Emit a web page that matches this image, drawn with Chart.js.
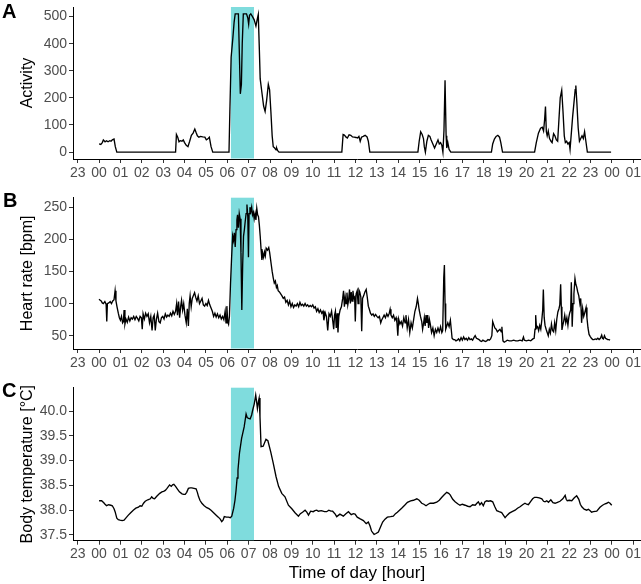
<!DOCTYPE html>
<html>
<head>
<meta charset="utf-8">
<script src="https://cdn.jsdelivr.net/npm/chart.js@4.4.0/dist/chart.umd.min.js"></script>
<style>
  body { margin: 0; background: #fff; }
  #wrap { position: relative; width: 641px; height: 584px; overflow: hidden; }
  .panel { position: absolute; left: 0; width: 641px; }
  .tag { position: absolute; font: bold 20px "Liberation Sans", Arial, sans-serif; line-height: 20px; color: #000; }
</style>
</head>
<body>
<div id="wrap">
  <div class="panel" style="top:0;height:185px"><canvas id="chartA"></canvas></div>
  <div class="panel" style="top:190px;height:185px"><canvas id="chartB"></canvas></div>
  <div class="panel" style="top:380px;height:204px"><canvas id="chartC"></canvas></div>
  <div class="tag" style="left:2px;top:1px">A</div>
  <div class="tag" style="left:3px;top:190px">B</div>
  <div class="tag" style="left:2px;top:380px">C</div>
</div>
<script>
// hour of day (0 = midnight) -> value
const activity = [
  [0.00,30],[0.08,28],[0.15,35],[0.20,45],[0.28,38],[0.35,42],[0.42,38],[0.50,42],[0.56,40],[0.62,45],[0.70,48],[0.76,20],[0.83,0],
  [3.58,0],[3.62,65],[3.68,55],[3.74,38],[3.80,42],[3.88,40],[3.94,45],[4.00,35],[4.08,25],[4.16,20],[4.24,40],[4.32,62],[4.40,70],
  [4.48,85],[4.54,72],[4.60,60],[4.67,55],[4.75,58],[4.85,56],[4.95,55],[5.02,45],[5.08,48],[5.16,55],[5.24,20],[5.32,0],
  [6.08,0],[6.12,150],[6.18,350],[6.26,420],[6.32,480],[6.37,510],[6.52,510],[6.56,380],[6.61,215],[6.66,250],[6.70,400],[6.75,510],
  [6.90,510],[6.96,495],[7.00,472],[7.04,505],[7.10,510],[7.18,500],[7.26,488],[7.34,465],[7.40,490],[7.45,508],[7.50,380],[7.54,270],
  [7.62,220],[7.70,170],[7.77,150],[7.84,190],[7.92,250],[7.98,230],[8.04,150],[8.10,60],[8.15,20],[8.22,15],[8.28,8],[8.31,15],[8.36,5],[8.42,0],
  [11.36,0],[11.42,65],[11.48,63],[11.56,55],[11.62,52],[11.70,64],[11.78,62],[11.86,56],[11.94,55],[12.02,54],[12.10,52],[12.16,58],
  [12.22,40],[12.28,55],[12.36,58],[12.45,62],[12.54,56],[12.60,40],[12.67,0],
  [14.92,0],[14.98,40],[15.05,75],[15.12,65],[15.18,50],[15.22,20],[15.27,0],[15.34,40],[15.41,62],[15.48,58],[15.54,45],[15.62,30],
  [15.70,15],[15.78,30],[15.86,45],[15.92,30],[15.98,35],[16.04,25],[16.09,0],[16.14,80],[16.19,265],[16.24,60],[16.27,15],[16.32,35],[16.38,10],[16.46,0],
  [18.36,0],[18.42,30],[18.50,48],[18.58,58],[18.66,62],[18.74,55],[18.80,35],[18.88,0],
  [20.38,0],[20.46,35],[20.56,70],[20.66,88],[20.74,92],[20.80,78],[20.85,120],[20.89,168],[20.93,75],[20.97,60],[21.02,78],[21.08,50],
  [21.15,40],[21.20,35],[21.27,68],[21.33,60],[21.40,45],[21.46,40],[21.52,120],[21.58,200],[21.65,228],[21.71,150],[21.77,60],[21.82,35],
  [21.88,40],[21.94,30],[22.00,35],[22.04,10],[22.10,70],[22.16,130],[22.22,180],[22.28,230],[22.31,246],[22.36,180],[22.42,90],[22.48,40],
  [22.54,50],[22.60,60],[22.66,50],[22.72,75],[22.78,40],[22.85,0],[23.96,0]
];

const heartRate = [
  [0.00,107],[0.05,105],[0.10,104],[0.15,101],[0.20,100],[0.27,103],[0.33,99],[0.36,72],[0.39,100],[0.45,101],[0.52,103],[0.58,100],
  [0.64,104],[0.70,106],[0.75,120],[0.79,104],[0.84,95],[0.90,85],[0.95,78],[1.00,74],[1.05,80],[1.10,70],[1.14,72],[1.17,90],[1.21,68],
  [1.26,76],[1.32,71],[1.38,79],[1.44,73],[1.50,78],[1.56,76],[1.62,80],[1.68,75],[1.74,80],[1.80,77],[1.86,73],[1.92,80],[1.98,78],
  [2.02,60],[2.06,84],[2.12,76],[2.18,85],[2.24,80],[2.30,84],[2.36,70],[2.42,80],[2.48,58],[2.53,78],[2.58,82],[2.63,58],[2.68,75],
  [2.74,85],[2.80,72],[2.86,70],[2.92,78],[2.98,80],[3.04,76],[3.10,84],[3.16,79],[3.22,82],[3.28,80],[3.34,85],[3.40,81],[3.46,88],
  [3.52,83],[3.58,88],[3.63,100],[3.67,82],[3.72,103],[3.77,78],[3.82,96],[3.86,105],[3.91,90],[3.96,100],[4.02,82],[4.08,70],[4.13,92],
  [4.18,65],[4.22,100],[4.26,112],[4.31,95],[4.36,108],[4.42,113],[4.47,117],[4.52,110],[4.58,104],[4.64,112],[4.70,100],[4.76,104],
  [4.82,108],[4.88,98],[4.94,96],[5.00,100],[5.06,97],[5.12,105],[5.18,98],[5.24,93],[5.30,88],[5.36,80],[5.42,85],[5.48,79],[5.54,84],
  [5.60,78],[5.66,82],[5.72,76],[5.78,80],[5.84,75],[5.90,88],[5.94,70],[5.98,96],[6.02,72],[6.06,68],[6.10,80],[6.15,130],[6.20,170],
  [6.25,205],[6.29,198],[6.33,210],[6.37,188],[6.41,215],[6.45,230],[6.48,238],[6.52,218],[6.56,240],[6.60,232],[6.64,180],[6.68,90],
  [6.72,160],[6.76,205],[6.80,215],[6.84,228],[6.88,240],[6.92,254],[6.96,235],[6.99,172],[7.02,240],[7.06,250],[7.10,243],[7.14,250],
  [7.18,238],[7.22,242],[7.26,232],[7.30,240],[7.34,230],[7.38,248],[7.42,238],[7.46,235],[7.50,222],[7.54,205],[7.58,185],[7.62,168],
  [7.66,178],[7.70,172],[7.74,180],[7.78,174],[7.82,186],[7.88,183],[7.94,187],[7.98,180],[8.02,170],[8.06,160],[8.10,150],[8.15,140],
  [8.20,132],[8.25,135],[8.30,125],[8.34,128],[8.38,120],[8.44,118],[8.50,115],[8.56,112],[8.62,108],[8.68,110],[8.74,102],[8.80,105],
  [8.86,98],[8.92,104],[8.98,95],[9.04,100],[9.10,94],[9.16,98],[9.22,96],[9.28,100],[9.34,95],[9.40,102],[9.46,97],[9.52,99],[9.58,96],
  [9.64,100],[9.70,96],[9.76,98],[9.82,95],[9.88,97],[9.94,95],[10.00,98],[10.06,93],[10.12,95],[10.18,88],[10.24,92],[10.30,86],
  [10.36,90],[10.42,85],[10.48,88],[10.52,74],[10.58,86],[10.64,80],[10.70,58],[10.76,84],[10.82,80],[10.88,88],[10.94,72],[10.98,60],
  [11.02,82],[11.06,88],[11.10,62],[11.14,85],[11.18,55],[11.22,80],[11.28,90],[11.34,95],[11.40,108],[11.44,120],[11.48,95],[11.52,110],
  [11.56,100],[11.60,117],[11.64,98],[11.68,106],[11.72,122],[11.76,100],[11.80,118],[11.84,104],[11.88,120],[11.92,108],[11.96,110],
  [11.99,72],[12.03,115],[12.08,120],[12.12,100],[12.16,121],[12.20,118],[12.25,110],[12.29,57],[12.33,108],[12.38,112],[12.44,118],
  [12.50,122],[12.55,110],[12.60,96],[12.64,92],[12.70,85],[12.76,82],[12.82,84],[12.88,80],[12.94,83],[13.00,80],[13.06,78],[13.12,80],
  [13.18,70],[13.22,74],[13.28,78],[13.34,82],[13.40,78],[13.46,84],[13.52,80],[13.58,85],[13.62,91],[13.66,82],[13.72,78],[13.78,82],
  [13.84,74],[13.90,78],[13.94,70],[13.98,50],[14.02,76],[14.08,68],[14.14,72],[14.20,65],[14.26,78],[14.32,70],[14.36,82],[14.42,62],
  [14.48,75],[14.54,55],[14.60,70],[14.66,62],[14.72,75],[14.78,88],[14.84,95],[14.90,108],[14.94,100],[14.98,90],[15.04,80],[15.10,72],
  [15.14,60],[15.18,68],[15.22,78],[15.26,65],[15.30,82],[15.34,70],[15.38,82],[15.42,62],[15.46,75],[15.50,68],[15.56,55],[15.62,62],
  [15.68,50],[15.74,60],[15.80,55],[15.86,62],[15.92,56],[15.98,64],[16.04,55],[16.08,58],[16.13,140],[16.16,160],[16.19,100],[16.22,60],
  [16.27,65],[16.32,70],[16.38,64],[16.44,74],[16.48,60],[16.52,46],[16.58,44],[16.64,44],[16.70,42],[16.76,43],[16.82,45],[16.88,42],
  [16.94,47],[17.00,43],[17.06,48],[17.12,44],[17.18,46],[17.24,43],[17.30,47],[17.36,44],[17.42,45],[17.48,43],[17.54,47],[17.60,50],
  [17.66,46],[17.72,45],[17.78,44],[17.84,42],[17.90,41],[17.96,43],[18.02,42],[18.08,41],[18.14,42],[18.20,44],[18.26,43],[18.32,45],
  [18.38,50],[18.42,72],[18.46,68],[18.52,62],[18.58,60],[18.64,56],[18.70,58],[18.76,60],[18.82,56],[18.85,64],[18.90,42],[18.96,40],
  [19.02,41],[19.10,43],[19.20,42],[19.30,42],[19.40,43],[19.50,42],[19.60,42],[19.70,43],[19.80,42],[19.86,48],[19.90,43],[20.00,42],
  [20.10,43],[20.20,42],[20.30,45],[20.36,46],[20.40,60],[20.43,82],[20.47,62],[20.52,64],[20.57,58],[20.62,66],[20.67,60],[20.72,75],
  [20.76,90],[20.79,122],[20.83,78],[20.87,66],[20.92,60],[20.97,55],[21.02,50],[21.07,60],[21.12,54],[21.17,68],[21.22,58],[21.27,56],
  [21.32,70],[21.37,58],[21.42,76],[21.47,87],[21.52,92],[21.56,98],[21.60,130],[21.63,95],[21.66,59],[21.70,66],[21.74,72],[21.79,82],
  [21.84,70],[21.89,78],[21.94,66],[21.98,78],[22.02,85],[22.07,90],[22.10,133],[22.14,64],[22.18,100],[22.22,115],[22.27,139],[22.31,130],
  [22.35,126],[22.40,118],[22.45,112],[22.50,100],[22.54,108],[22.58,70],[22.63,92],[22.68,80],[22.73,86],[22.79,94],[22.83,78],[22.88,62],
  [22.93,52],[22.98,49],[23.04,46],[23.10,44],[23.16,44],[23.22,45],[23.28,44],[23.34,46],[23.40,44],[23.46,46],[23.52,51],[23.56,46],
  [23.60,45],[23.65,50],[23.70,46],[23.75,45],[23.80,44],[23.86,44],[23.91,43]
];

const bodyTemp = [
  [0.00,38.19],[0.12,38.19],[0.22,38.15],[0.28,38.12],[0.35,38.09],[0.45,38.11],[0.55,38.10],[0.62,38.09],[0.70,38.03],[0.75,37.97],
  [0.83,37.84],[0.90,37.81],[0.98,37.80],[1.08,37.79],[1.17,37.80],[1.27,37.85],[1.37,37.90],[1.48,37.95],[1.60,38.00],[1.72,38.04],
  [1.84,38.06],[1.92,38.09],[2.00,38.08],[2.08,38.14],[2.16,38.18],[2.28,38.21],[2.40,38.23],[2.46,38.27],[2.53,38.24],[2.60,38.23],
  [2.70,38.28],[2.84,38.34],[2.94,38.37],[3.02,38.38],[3.10,38.40],[3.18,38.44],[3.30,38.51],[3.38,38.48],[3.44,38.51],[3.50,38.52],
  [3.58,38.48],[3.66,38.43],[3.76,38.37],[3.88,38.33],[3.96,38.32],[4.03,38.32],[4.10,38.36],[4.18,38.44],[4.26,38.45],[4.34,38.45],
  [4.44,38.44],[4.54,38.43],[4.60,38.36],[4.65,38.28],[4.72,38.20],[4.81,38.14],[4.92,38.09],[5.04,38.05],[5.14,38.03],[5.24,38.00],
  [5.36,37.95],[5.48,37.90],[5.58,37.86],[5.67,37.82],[5.74,37.77],[5.80,37.80],[5.86,37.87],[5.96,37.86],[6.06,37.86],[6.14,37.85],
  [6.21,37.88],[6.30,38.04],[6.36,38.20],[6.41,38.40],[6.46,38.65],[6.50,38.81],[6.57,39.15],[6.67,39.45],[6.79,39.68],[6.88,39.94],
  [6.93,39.87],[7.00,39.85],[7.07,39.84],[7.14,39.92],[7.19,40.02],[7.26,40.14],[7.33,40.32],[7.38,40.16],[7.41,40.05],[7.46,40.20],
  [7.49,40.26],[7.53,39.89],[7.58,39.28],[7.68,39.29],[7.81,39.43],[7.90,39.40],[8.03,39.18],[8.15,38.95],[8.28,38.68],[8.40,38.48],
  [8.55,38.34],[8.70,38.27],[8.86,38.10],[9.02,38.03],[9.17,37.95],[9.33,37.88],[9.42,37.93],[9.52,37.96],[9.64,38.00],[9.72,37.96],
  [9.80,37.90],[9.90,37.98],[10.02,37.97],[10.10,37.99],[10.19,38.00],[10.26,37.98],[10.40,37.99],[10.55,37.97],[10.65,37.97],[10.75,38.00],
  [10.85,37.98],[10.93,37.98],[11.05,37.92],[11.12,37.87],[11.27,37.92],[11.43,37.88],[11.55,37.93],[11.67,37.97],[11.80,37.91],[11.90,37.93],
  [11.98,37.92],[12.08,37.86],[12.20,37.83],[12.37,37.79],[12.50,37.73],[12.60,37.76],[12.68,37.68],[12.75,37.58],[12.87,37.51],[12.96,37.53],
  [13.07,37.56],[13.17,37.66],[13.27,37.76],[13.38,37.82],[13.49,37.86],[13.64,37.87],[13.77,37.88],[13.87,37.93],[13.96,37.96],[14.06,38.00],
  [14.16,38.04],[14.30,38.10],[14.43,38.16],[14.58,38.19],[14.71,38.20],[14.87,38.23],[14.98,38.20],[15.10,38.14],[15.20,38.12],[15.30,38.09],
  [15.40,38.12],[15.49,38.14],[15.65,38.14],[15.80,38.16],[15.92,38.20],[16.04,38.26],[16.15,38.31],[16.27,38.36],[16.36,38.34],[16.43,38.31],
  [16.55,38.22],[16.66,38.17],[16.78,38.13],[16.89,38.10],[17.00,38.12],[17.13,38.10],[17.25,38.08],[17.36,38.07],[17.48,38.11],[17.60,38.10],
  [17.68,38.14],[17.75,38.17],[17.82,38.11],[17.90,38.15],[17.98,38.09],[18.06,38.17],[18.14,38.19],[18.22,38.18],[18.32,38.19],[18.42,38.17],
  [18.52,38.07],[18.61,37.99],[18.72,37.97],[18.84,37.95],[18.92,37.90],[19.00,37.85],[19.10,37.90],[19.20,37.94],[19.33,37.97],[19.47,38.00],
  [19.58,38.04],[19.70,38.07],[19.82,38.11],[19.93,38.14],[20.01,38.12],[20.09,38.11],[20.20,38.18],[20.29,38.23],[20.38,38.26],[20.48,38.26],
  [20.60,38.25],[20.72,38.23],[20.80,38.18],[20.87,38.17],[20.95,38.19],[21.03,38.16],[21.14,38.21],[21.24,38.15],[21.34,38.14],[21.45,38.16],
  [21.57,38.18],[21.70,38.23],[21.81,38.30],[21.86,38.22],[21.91,38.19],[22.00,38.20],[22.12,38.19],[22.24,38.25],[22.35,38.29],[22.45,38.22],
  [22.52,38.12],[22.59,38.07],[22.70,38.02],[22.82,38.00],[22.90,38.02],[22.98,37.99],[23.05,37.96],[23.13,37.97],[23.29,37.98],[23.44,38.06],
  [23.56,38.10],[23.68,38.13],[23.76,38.14],[23.83,38.16],[23.91,38.14],[23.99,38.10]
];

// x axis: hours from 23 (previous day) to 01 (next day)
const hourTicks = [-1,0,1,2,3,4,5,6,7,8,9,10,11,12,13,14,15,16,17,18,19,20,21,22,23,24,25];
const hourLabels = ['23','00','01','02','03','04','05','06','07','08','09','10','11','12','13',
                    '14','15','16','17','18','19','20','21','22','23','00','01'];
const activityTicks = [0,100,200,300,400,500];
const heartTicks = [50,100,150,200,250];
const tempTicks = [37.5,38.0,38.5,39.0,39.5,40.0];

// highlighted exercise window
const shadeStart = 6.17;
const shadeEnd = 7.25;

const FONT = '"Liberation Sans", Arial, sans-serif';

const shadePlugin = {
    id: 'shade',
    beforeDatasetsDraw(chart) {
        const { ctx, chartArea, scales } = chart;
        const x0 = scales.x.getPixelForValue(shadeStart);
        const x1 = scales.x.getPixelForValue(shadeEnd);
        ctx.save();
        ctx.fillStyle = '#7fdcdd';
        ctx.fillRect(x0, chartArea.top, x1 - x0, chartArea.bottom - chartArea.top - 0.5);
        ctx.restore();
    }
};

function axisLook() {
    return {
        border: { display: true, color: '#000', width: 1 },
        grid: { display: true, drawOnChartArea: false, drawTicks: true, tickLength: 4, color: '#333', lineWidth: 1 }
    };
}

function makeChart(canvasId, points, cfg) {
    new Chart(document.getElementById(canvasId), {
        type: 'line',
        data: {
            datasets: [{
                data: points.map(p => ({ x: p[0], y: p[1] })),
                borderColor: '#000',
                borderWidth: 1.35,
                pointRadius: 0,
                tension: 0,
                fill: false
            }]
        },
        options: {
            responsive: true,
            maintainAspectRatio: false,
            animation: false,
            layout: { padding: { top: cfg.padTop, right: 0, left: 0, bottom: 0 } },
            plugins: { legend: { display: false }, tooltip: { enabled: false } },
            scales: {
                x: {
                    type: 'linear',
                    min: -1.22,
                    max: 25.36,
                    ...axisLook(),
                    afterBuildTicks: s => { s.ticks = hourTicks.map(v => ({ value: v })); },
                    afterFit: s => { s.height = cfg.xHeight; s.paddingLeft = 0; s.paddingRight = 0; },
                    ticks: {
                        autoSkip: false, maxRotation: 0, padding: 1.5,
                        color: '#4d4d4d', font: { family: FONT, size: 14 },
                        callback: (v, i) => hourLabels[i]
                    },
                    title: cfg.xTitle ? {
                        display: true, text: cfg.xTitle, color: '#000',
                        font: { family: FONT, size: 17 }, padding: { top: 0, bottom: 0 }
                    } : { display: false }
                },
                y: {
                    min: cfg.yMin,
                    max: cfg.yMax,
                    ...axisLook(),
                    afterBuildTicks: s => { s.ticks = cfg.yTicks.map(v => ({ value: v })); },
                    afterFit: s => { s.width = 73; s.paddingTop = 0; s.paddingBottom = 0; },
                    ticks: {
                        padding: 2, color: '#4d4d4d', font: { family: FONT, size: 14 },
                        callback: cfg.yFormat
                    },
                    title: {
                        display: true, text: cfg.yTitle, color: '#000',
                        font: { family: FONT, size: 16 }, padding: { top: 18, bottom: 0 }
                    }
                }
            }
        },
        plugins: [shadePlugin]
    });
}

makeChart('chartA', activity, {
    padTop: 7, xHeight: 26, yMin: -25.5, yMax: 535.5, yTicks: activityTicks,
    yTitle: 'Activity', yFormat: v => String(v)
});
makeChart('chartB', heartRate, {
    padTop: 7.7, xHeight: 26, yMin: 29.3, yMax: 264.7, yTicks: heartTicks,
    yTitle: 'Heart rate [bpm]', yFormat: v => String(v)
});
makeChart('chartC', bodyTemp, {
    padTop: 7.7, xHeight: 43.3, yMin: 37.385, yMax: 40.47, yTicks: tempTicks,
    yTitle: 'Body temperature [°C]', yFormat: v => v.toFixed(1), xTitle: 'Time of day [hour]'
});
</script>
</body>
</html>
